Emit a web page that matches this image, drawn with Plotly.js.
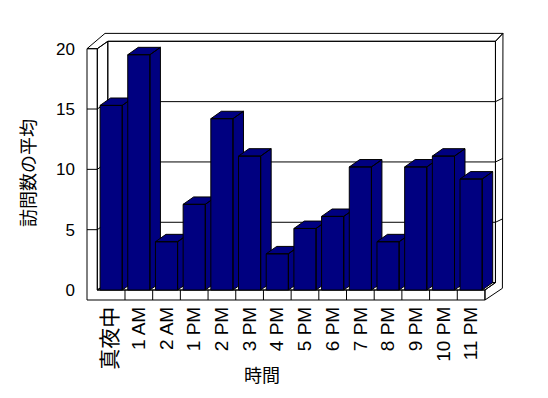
<!DOCTYPE html>
<html><head><meta charset="utf-8">
<script src="https://cdn.plot.ly/plotly-3.0.1.min.js"></script>
<style>html,body{margin:0;padding:0;background:#fff}#chart{width:548px;height:398px}</style>
</head><body><div id="chart"></div>
<script>
// ---- data ----
const categories = ['真夜中','1 AM','2 AM','1 PM','2 PM','3 PM','4 PM','5 PM','6 PM','7 PM','8 PM','9 PM','10 PM','11 PM'];
const avgVisits = [15.3, 19.5, 4.0, 7.1, 14.2, 11.1, 3.0, 5.1, 6.1, 10.2, 4.0, 10.2, 11.1, 9.2];
const yTickValues = [0, 5, 10, 15, 20];
const yTickLabels = ['0', '5', '10', '15', '20'];
const gridValues = [5, 10, 15];
const yTitle = '訪問数の平均';
const xTitle = '時間';

// ---- geometry (pixel layout -> axis ranges) ----
const W = 548, H = 398;
const L = 80, R = 520, T = 25, B = 302;      // plot area in px
const PX0 = 97.3, KX = 27.69;                 // px of x=-0.5, px per category
const PY0 = 290, KY = 12.065;                 // px of y=0, px per unit
const xRange = [-0.5 - (PX0 - L) / KX, -0.5 + (R - PX0) / KX];
const yRange = [(PY0 - B) / KY, (PY0 - T) / KY];

const n = categories.length;
const x0 = -0.5, x1 = n - 0.5, yTop = 20;
const DX = 10.5 / KX, DY = 7.4 / KY;          // depth offset
const WALL = 10.3 / KX, FLOOR = 10 / KY;      // slab thickness
const OX = 0.65, OY = 1.27;                   // outer slab offset
const BW = 0.4;                               // half bar width

function poly(pts, xs, ys) { pts.forEach(p => { xs.push(p[0]); ys.push(p[1]); }); xs.push(pts[0][0]); ys.push(pts[0][1]); xs.push(null); ys.push(null); }

// frame
const fx = [], fy = [];
poly([[x0 + DX, DY], [x1 + DX, DY], [x1 + DX, yTop + DY], [x0 + DX, yTop + DY]], fx, fy);           // back wall
poly([[x0, 0], [x0, yTop], [x0 + DX, yTop + DY], [x0 + DX, DY]], fx, fy);                           // left wall inner
poly([[x0, 0], [x1, 0], [x1 + DX, DY], [x0 + DX, DY]], fx, fy);                                     // floor top
poly([[x0 - WALL, yTop], [x0, yTop], [x0, 0], [x1, 0], [x1, -FLOOR], [x0 - WALL, -FLOOR]], fx, fy); // front L face
poly([[x0 - WALL, yTop], [x0 - WALL + OX, yTop + OY], [x1 + OX, yTop + OY], [x1 + DX, yTop + DY], [x0 + DX, yTop + DY], [x0, yTop]], fx, fy); // top slab
poly([[x1 + DX, yTop + DY], [x1 + OX, yTop + OY], [x1 + OX - 0.02, -FLOOR + 0.97], [x1, -FLOOR], [x1, 0], [x1 + DX, DY]], fx, fy); // right slab

// gridlines
const gx = [], gy = [];
gridValues.forEach(v => {
  gx.push(x0 - WALL, x0, x0 + DX, x1 + DX, x1 + OX, null);
  gy.push(v, v, v + DY, v + DY, v + DY + 0.3, null);
});
// floor tick marks
for (let i = 1; i < n; i++) { gx.push(i - 0.5, i - 0.5, null); gy.push(0, -FLOOR, null); }

const traces = [];
traces.push({x: fx, y: fy, mode: 'lines', fill: 'toself', fillcolor: '#ffffff', line: {color: '#000', width: 1}, hoverinfo: 'skip'});
traces.push({x: gx, y: gy, mode: 'lines', line: {color: '#000', width: 1}, hoverinfo: 'skip'});

avgVisits.forEach((v, i) => {
  const bx = [], by = [];
  poly([[i + BW, 0], [i + BW + DX, DY], [i + BW + DX, v + DY], [i + BW, v]], bx, by);          // side
  poly([[i - BW, v], [i + BW, v], [i + BW + DX, v + DY], [i - BW + DX, v + DY]], bx, by);      // top
  poly([[i - BW, 0], [i + BW, 0], [i + BW, v], [i - BW, v]], bx, by);                          // front
  traces.push({x: bx, y: by, mode: 'lines', fill: 'toself', fillcolor: '#000080', line: {color: '#000', width: 1}, name: categories[i], hoverinfo: 'skip'});
});

function px2paperX(p) { return (p - L) / (R - L); }
function px2paperY(p) { return (B - p) / (B - T); }

const tickText = categories.map(c => /[^\x00-\x7f]/.test(c)
  ? '<span style="font-size:21px">' + c + '</span>'
  : '<span style="font-size:19px">' + c + '</span>');

const layout = {
  width: W, height: H,
  margin: {l: L, r: W - R, t: T, b: H - B, pad: 0, autoexpand: false},
  paper_bgcolor: '#ffffff', plot_bgcolor: 'rgba(0,0,0,0)',
  showlegend: false,
  font: {family: 'Liberation Sans, Arial, Noto Sans CJK JP', color: '#000'},
  xaxis: {range: xRange, showgrid: false, zeroline: false, showline: false, ticks: '',
          tickmode: 'array', tickvals: categories.map((c, i) => i), ticktext: tickText,
          tickangle: -90, tickfont: {size: 19, family: 'Liberation Sans, Noto Sans CJK JP'}, fixedrange: true},
  yaxis: {range: yRange, showgrid: false, zeroline: false, showline: false, ticks: '',
          tickmode: 'array', tickvals: yTickValues, ticktext: yTickLabels,
          tickfont: {size: 17, family: 'Liberation Sans'}, ticklabelstandoff: 4, fixedrange: true},
  annotations: [
    {text: yTitle, xref: 'paper', yref: 'paper', x: px2paperX(27), y: px2paperY(173), textangle: -90,
     showarrow: false, xanchor: 'center', yanchor: 'middle', font: {size: 18, family: 'Noto Sans CJK JP'}},
    {text: xTitle, xref: 'paper', yref: 'paper', x: px2paperX(262), y: px2paperY(374),
     showarrow: false, xanchor: 'center', yanchor: 'middle', font: {size: 18, family: 'Noto Sans CJK JP'}}
  ]
};
Plotly.newPlot('chart', traces, layout, {staticPlot: true, displayModeBar: false});
</script></body></html>
